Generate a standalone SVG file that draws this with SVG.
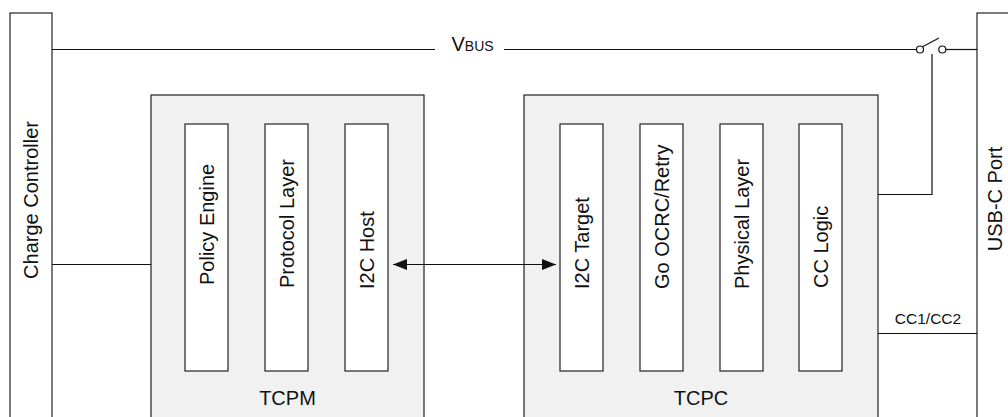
<svg xmlns="http://www.w3.org/2000/svg" width="1008" height="417" viewBox="0 0 1008 417">
<style>
.box{fill:#fff;stroke:#222;stroke-width:1.2}
.grp{fill:#f1f1f1;stroke:#222;stroke-width:1.2}
.ln{fill:none;stroke:#111;stroke-width:1.2}
.t{font-family:"Liberation Sans",Arial,sans-serif;font-size:20px;fill:#111}
.s{font-family:"Liberation Sans",Arial,sans-serif;font-size:15.5px;fill:#111}
</style>
<defs>
<marker id="ah" viewBox="0 0 14 11" refX="14" refY="5.5" markerWidth="14" markerHeight="11" markerUnits="userSpaceOnUse" orient="auto-start-reverse">
<path d="M0,0 L14,5.5 L0,11 Z" fill="#111"/>
</marker>
</defs>
<rect width="1008" height="417" fill="#fff"/>
<g id="charge-controller">
<rect class="box" x="10" y="13" width="42" height="420"/>
<text class="t" transform="translate(38,200) rotate(-90)" text-anchor="middle" font-size="19.5">Charge Controller</text>
</g>
<g id="usb-c-port">
<rect class="box" x="977" y="13" width="60" height="420"/>
<text class="t" transform="translate(1002,199) rotate(-90)" text-anchor="middle" font-size="17">USB-C Port</text>
</g>
<g id="tcpm">
<rect class="grp" x="151" y="95" width="273" height="340"/>
<text class="t" x="287.5" y="405" text-anchor="middle">TCPM</text>
</g>
<g id="policy-engine">
<rect class="box" x="185" y="124" width="43" height="247"/>
<text class="t" transform="translate(214,285) rotate(-90)">Policy Engine</text>
</g>
<g id="protocol-layer">
<rect class="box" x="265" y="124" width="43" height="247"/>
<text class="t" transform="translate(294,288) rotate(-90)">Protocol Layer</text>
</g>
<g id="i2c-host">
<rect class="box" x="345" y="124" width="43" height="247"/>
<text class="t" transform="translate(374,289) rotate(-90)">I2C Host</text>
</g>
<g id="tcpc">
<rect class="grp" x="524" y="95" width="354" height="340"/>
<text class="t" x="701" y="405" text-anchor="middle">TCPC</text>
</g>
<g id="i2c-target">
<rect class="box" x="560" y="124" width="43" height="247"/>
<text class="t" transform="translate(589,289) rotate(-90)">I2C Target</text>
</g>
<g id="go-ocrc-retry">
<rect class="box" x="640" y="124" width="43" height="247"/>
<text class="t" transform="translate(669,289) rotate(-90)">Go OCRC/Retry</text>
</g>
<g id="physical-layer">
<rect class="box" x="720" y="124" width="43" height="247"/>
<text class="t" transform="translate(749,289) rotate(-90)">Physical Layer</text>
</g>
<g id="cc-logic">
<rect class="box" x="799" y="124" width="43" height="247"/>
<text class="t" transform="translate(828,288) rotate(-90)">CC Logic</text>
</g>
<g id="connectors">
<path class="ln" d="M52,49.5 H435 M504,49.5 H916.5"/>
<text class="t" x="451.5" y="51" font-size="18">V<tspan font-size="14">BUS</tspan></text>
<circle class="ln" cx="920" cy="49.5" r="3.5" fill="#fff"/>
<circle class="ln" cx="942.3" cy="49.5" r="3.5" fill="#fff"/>
<path class="ln" d="M923,46.5 L939,38"/>
<path class="ln" d="M945.8,49.5 H977"/>
<path class="ln" d="M932,54 V194.5 H878"/>
<path class="ln" d="M52,264.5 H151"/>
<path class="ln" d="M393,264.5 H556" marker-start="url(#ah)" marker-end="url(#ah)"/>
<path class="ln" d="M878,333.5 H977"/>
<text class="s" x="928" y="324" text-anchor="middle">CC1/CC2</text>
</g>
</svg>
